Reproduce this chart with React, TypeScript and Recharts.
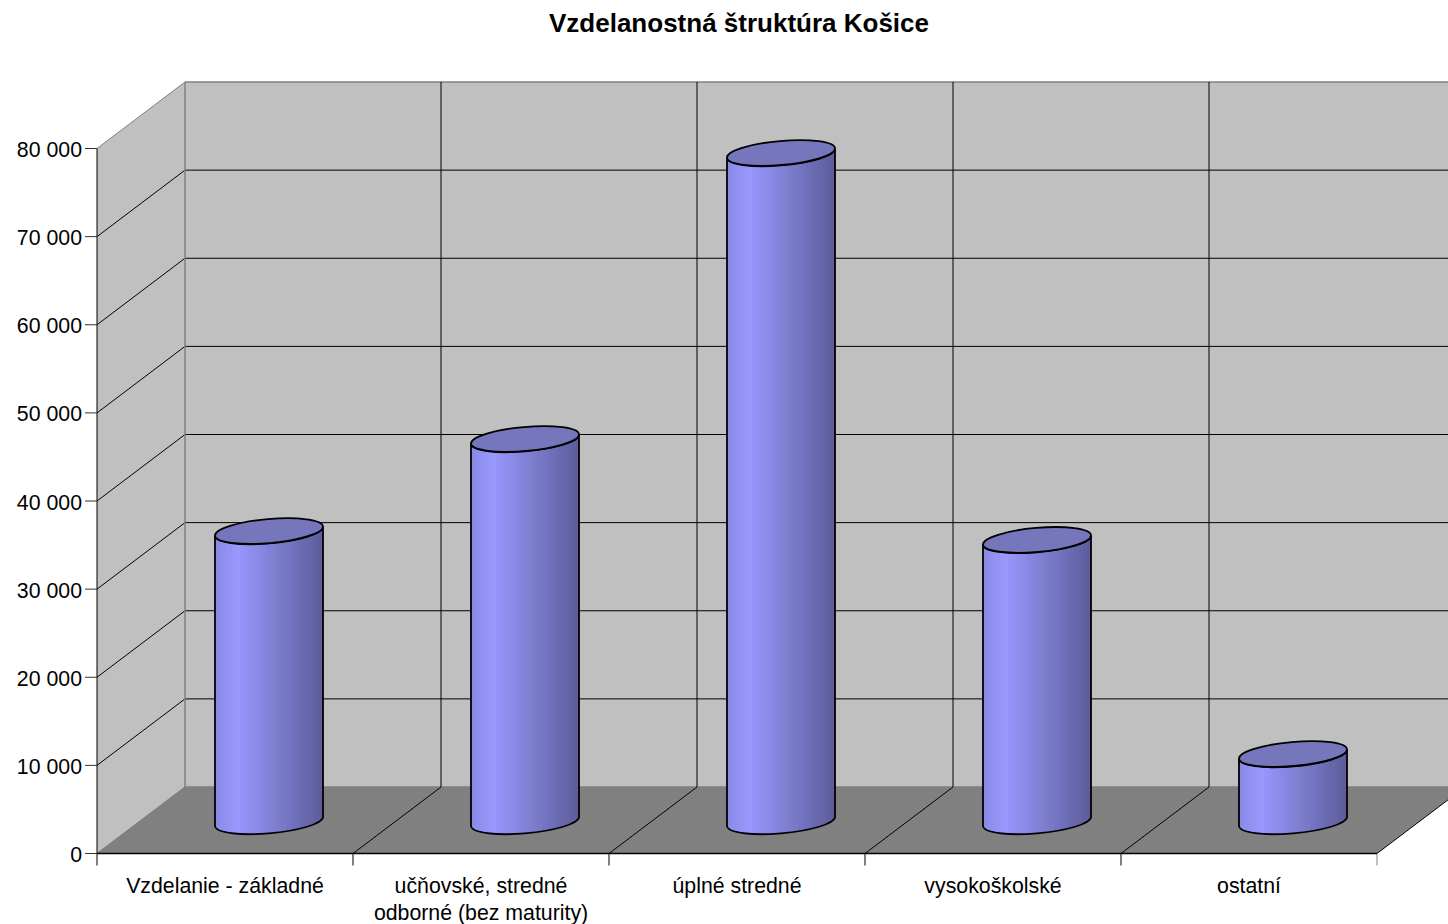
import React from 'react';
import {
  BarChart,
  Bar,
  XAxis,
  YAxis,
  CartesianGrid,
  ReferenceArea,
} from 'recharts';

const categories = [
  'Vzdelanie - základné',
  'učňovské, stredné odborné (bez maturity)',
  'úplné stredné',
  'vysokoškolské',
  'ostatní',
];
const labelLines: Record<string, string[]> = {
  'učňovské, stredné odborné (bez maturity)': [
    'učňovské, stredné',
    'odborné (bez maturity)',
  ],
};
const values = [32900, 43350, 75800, 31900, 7600];
const yTicks = [0, 10000, 20000, 30000, 40000, 50000, 60000, 70000, 80000];

const data = categories.map((name, i) => ({ name, value: values[i] }));

// 3D depth of the box, back wall is shifted by this much
const DX = 88;
const DY = 66.5;
// cylinder sits in the middle of the depth
const CYL_DY = 32;
const RX = 54.2;
const RY = 12;
const TILT = 4.5;

const GREY = '#808080';
const WALL = '#C0C0C0';

const formatTick = (v: number) =>
  v === 0 ? '0' : `${Math.floor(v / 1000)} 000`;

const Walls = ({ x, y, width, height }: any) => {
  const b = y + height;
  const r = x + width;
  return (
    <g>
      <polygon
        points={`${x},${y} ${x + DX},${y - DY} ${x + DX},${b - DY} ${x},${b}`}
        fill={WALL}
      />
      <rect x={x + DX} y={y - DY} width={width} height={height} fill={WALL} />
      <polygon
        points={`${x},${b} ${r},${b} ${r + DX},${b - DY} ${x + DX},${b - DY}`}
        fill={GREY}
      />
    </g>
  );
};

const HLine = ({ x1, y1, x2, y2 }: any) => {
  const isTop = y1 < 150;
  const isFloor = y1 > 850;
  const c = isTop || isFloor ? GREY : '#000';
  return (
    <g>
      <line x1={x1} y1={y1} x2={x1 + DX} y2={y1 - DY} stroke={c} />
      <line
        x1={x1 + DX}
        y1={y1 - DY}
        x2={x2 + DX}
        y2={y2 - DY}
        stroke={c}
        strokeWidth={isFloor || isTop ? 1.5 : 1}
      />
    </g>
  );
};

const VLine = ({ x1, y1, y2, index }: any) => {
  const isFirst = index === 0;
  const isLast = index === categories.length;
  return (
    <g>
      <line
        x1={x1 + DX}
        y1={y1 - DY}
        x2={x1 + DX}
        y2={y2 - DY}
        stroke={isFirst ? GREY : '#000'}
        strokeWidth={isFirst ? 1.5 : 1}
      />
      <line
        x1={x1}
        y1={y2}
        x2={x1 + DX}
        y2={y2 - DY}
        stroke={isFirst ? GREY : '#000'}
      />
      <line
        x1={x1}
        y1={y2}
        x2={x1}
        y2={y2 + 12}
        stroke={isLast ? GREY : '#000'}
      />
    </g>
  );
};

const Cylinder = ({ x, y, width, height }: any) => {
  const cx = x + width / 2 + DX / 2;
  const top = y - CYL_DY;
  const bot = y + height - CYL_DY;
  const l = cx - width / 2;
  const r = cx + width / 2;
  const body =
    `M${l},${top + TILT} L${l},${bot + TILT} ` +
    `A${RX},${RY} -5 0 0 ${r},${bot - TILT} ` +
    `L${r},${top - TILT} ` +
    `A${RX},${RY} -5 0 1 ${l},${top + TILT} Z`;
  return (
    <g>
      <path d={body} fill="url(#cylFill)" stroke="#000" strokeWidth={1.8} />
      <ellipse
        cx={cx}
        cy={top - 0.5}
        rx={RX}
        ry={RY}
        transform={`rotate(-5 ${cx} ${top - 0.5})`}
        fill="#7676BD"
        stroke="#000"
        strokeWidth={1.8}
      />
    </g>
  );
};

const XTick = ({ x, y, payload }: any) => (
  <text x={x} y={y + 31} textAnchor="middle" fontSize={21.3} fill="#000">
    {(labelLines[payload.value] ?? [payload.value]).map((line, i) => (
      <tspan key={line} x={x} dy={i === 0 ? 0 : 27}>
        {line}
      </tspan>
    ))}
  </text>
);

// hard stops give the banded look of the old 3D renderer
const bands = 26;
const shade = (t: number) => {
  const k = t < 0.18 ? 0.9 + t * 0.55 : 1 - (t - 0.18) * 0.5;
  const rg = Math.round(153 * k);
  return `rgb(${rg},${rg},${Math.round(255 * k)})`;
};

export default function App() {
  return (
    <div
      style={{
        position: 'absolute',
        left: 0,
        top: 0,
        width: 1448,
        height: 924,
        overflow: 'hidden',
        fontFamily: '"Liberation Sans", Arial, sans-serif',
      }}
    >
      <div
        style={{
          position: 'absolute',
          left: 0,
          right: 0,
          top: 9,
          paddingLeft: 30,
          textAlign: 'center',
          fontSize: 26,
          fontWeight: 'bold',
          lineHeight: '29px',
        }}
      >
        Vzdelanostná štruktúra Košice
      </div>
      <BarChart
        width={1448}
        height={924}
        data={data}
        margin={{ top: 148.5, right: 71, bottom: 0, left: 0 }}
        barSize={108}
        style={{ fontFamily: '"Liberation Sans", Arial, sans-serif' }}
      >
        <defs>
          <linearGradient id="cylFill" x1="0" y1="0" x2="1" y2="0">
            {Array.from({ length: bands }).flatMap((_, i) => [
              <stop key={`a${i}`} offset={i / bands} stopColor={shade(i / bands)} />,
              <stop
                key={`b${i}`}
                offset={(i + 1) / bands}
                stopColor={shade(i / bands)}
              />,
            ])}
          </linearGradient>
        </defs>
        <ReferenceArea
          y1={0}
          y2={80000}
          shape={Walls}
          ifOverflow="visible"
          zIndex={-200}
        />
        <CartesianGrid
          horizontal={HLine}
          vertical={VLine}
          horizontalValues={yTicks}
          verticalCoordinatesGenerator={({ offset }: any) =>
            categories
              .map((_, i) => offset.left + (i * offset.width) / categories.length)
              .concat(offset.left + offset.width)
          }
        />
        <XAxis
          dataKey="name"
          height={70.5}
          interval={0}
          tickLine={false}
          axisLine={{ stroke: '#000', strokeWidth: 1.5 }}
          tick={XTick}
        />
        <YAxis
          width={97}
          domain={[0, 80000]}
          ticks={yTicks}
          interval={0}
          tickFormatter={formatTick}
          tickSize={12}
          tickMargin={3}
          tickLine={{ stroke: '#333' }}
          axisLine={{ stroke: '#000', strokeWidth: 1 }}
          tick={{ fontSize: 21.3, fill: '#000', dy: 1 }}
        />
        <Bar dataKey="value" shape={Cylinder} isAnimationActive={false} />
      </BarChart>
    </div>
  );
}
